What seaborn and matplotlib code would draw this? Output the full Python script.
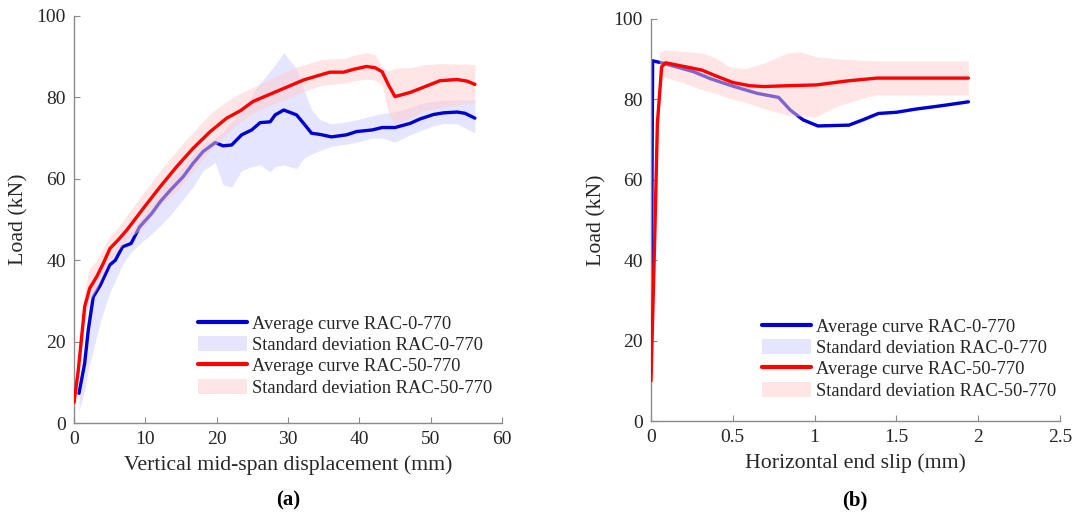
import numpy as np
import pandas as pd
import matplotlib
matplotlib.use("Agg")
import matplotlib.pyplot as plt
from matplotlib.lines import Line2D
from matplotlib.patches import Patch
import seaborn as sns

# ---- (a) load vs. vertical mid-span displacement ----
a_rac0_x = [0.7, 1.5, 2.0, 2.7, 3.7, 5.0, 5.8, 6.8, 8.0, 9.2, 10.9, 12.1, 13.5, 15.3, 16.7,
            18.1, 19.8, 20.9, 22.1, 23.5, 24.9, 26.1, 27.5, 28.2, 29.4, 31.2, 32.2, 33.3,
            34.5, 36.1, 38.2, 39.6, 41.8, 43.2, 45.0, 47.1, 48.5, 50.4, 51.8, 53.7, 54.8, 56.2]
a_rac0_mean = [7.3, 14.7, 22.8, 31.0, 33.9, 38.8, 40.0, 43.3, 44.1, 48.2, 51.5, 54.4, 57.2,
               60.5, 63.8, 66.7, 68.9, 68.1, 68.3, 70.8, 72.0, 73.8, 74.0, 75.7, 76.9, 75.7,
               73.6, 71.2, 70.9, 70.3, 70.8, 71.6, 72.0, 72.6, 72.6, 73.6, 74.7, 75.8, 76.2,
               76.4, 76.1, 74.9]
a_rac0_hi = [9.0, 20.0, 28.0, 34.0, 37.0, 41.0, 43.0, 46.0, 47.0, 50.0, 54.0, 57.0, 60.0,
             63.0, 66.0, 68.5, 70.0, 71.5, 74.0, 77.0, 80.5, 83.5, 86.5, 88.0, 91.0, 87.0,
             82.0, 77.0, 74.5, 73.5, 74.0, 74.5, 75.5, 76.0, 76.5, 77.5, 78.5, 79.0, 79.3,
             79.4, 79.4, 79.4]
a_rac0_lo = [3.0, 8.0, 13.0, 18.0, 25.0, 32.0, 35.0, 39.0, 42.0, 44.0, 46.5, 48.5, 51.0,
             55.0, 58.0, 62.0, 64.0, 58.5, 58.0, 62.0, 63.0, 63.4, 61.7, 63.0, 63.4, 62.5,
             65.0, 66.0, 67.0, 68.0, 68.5, 69.0, 70.0, 70.0, 69.0, 70.8, 71.8, 73.0, 73.6,
             73.5, 72.5, 71.2]

a_rac50_x = [0.0, 0.6, 1.5, 2.2, 3.2, 4.1, 5.05, 6.2, 7.4, 9.7, 12.1, 14.4, 16.7, 19.1, 21.4,
             23.3, 25.1, 27.5, 29.8, 32.2, 34.5, 35.9, 37.8, 39.2, 41.0, 42.2, 43.2, 44.1,
             45.0, 47.1, 49.0, 51.3, 53.7, 55.1, 56.2]
a_rac50_mean = [5.0, 13.0, 28.6, 33.1, 36.0, 39.2, 42.9, 45.0, 47.4, 52.7, 58.1, 63.0, 67.5,
                71.6, 74.9, 76.7, 79.0, 80.8, 82.5, 84.3, 85.5, 86.2, 86.2, 86.9, 87.6, 87.3,
                86.3, 83.0, 80.2, 81.2, 82.5, 84.1, 84.4, 84.0, 83.2]
a_rac50_hi = [6.0, 17.0, 33.0, 38.0, 40.0, 43.0, 46.0, 48.0, 51.0, 56.5, 62.0, 67.0, 71.5,
              76.0, 79.0, 81.0, 82.5, 84.5, 86.5, 88.0, 89.2, 89.5, 89.5, 90.3, 91.0, 90.5,
              87.5, 86.5, 87.2, 87.3, 88.0, 88.3, 88.2, 88.2, 88.0]
a_rac50_lo = [4.0, 10.0, 25.0, 30.0, 33.0, 36.5, 40.0, 42.5, 45.0, 48.0, 53.5, 57.0, 62.0,
              67.0, 71.0, 74.0, 76.0, 78.0, 79.5, 81.5, 82.8, 83.2, 83.5, 84.0, 84.5, 84.2,
              83.0, 76.0, 73.2, 75.0, 76.5, 77.5, 78.3, 78.5, 78.6]

# ---- (b) load vs. horizontal end slip ----
b_rac0_x = [0.0, 0.01, 0.075, 0.26, 0.36, 0.5, 0.65, 0.78, 0.85, 0.93, 1.02, 1.21, 1.3, 1.39,
            1.5, 1.62, 1.77, 1.94]
b_rac0_mean = [12.0, 89.6, 89.0, 86.9, 85.2, 83.3, 81.5, 80.5, 77.4, 74.9, 73.4, 73.6, 75.0,
               76.5, 76.8, 77.6, 78.4, 79.4]
b_rac0_sd = [0.3, 0.3, 0.3, 0.3, 0.3, 0.3, 0.3, 0.3, 0.3, 0.3, 0.3, 0.3, 0.3, 0.3, 0.3, 0.3,
             0.3, 0.3]

b_rac50_x = [0.0, 0.024, 0.039, 0.065, 0.09, 0.31, 0.40, 0.50, 0.605, 0.69, 0.83, 1.01, 1.2,
             1.38, 1.94]
b_rac50_mean = [10.0, 47.5, 74.0, 88.1, 89.1, 87.3, 85.8, 84.2, 83.4, 83.2, 83.4, 83.6, 84.6,
                85.3, 85.3]
b_rac50_band_x = [0.05, 0.075, 0.18, 0.32, 0.40, 0.48, 0.57, 0.69, 0.83, 0.91, 1.01, 1.13,
                  1.3, 1.38, 1.94]
b_rac50_hi = [91.5, 92.3, 92.0, 91.5, 90.2, 88.1, 87.6, 89.0, 91.5, 91.9, 90.6, 90.1, 89.7,
              89.6, 89.6]
b_rac50_lo = [82.0, 85.6, 84.4, 82.3, 81.5, 80.2, 79.4, 77.7, 76.1, 75.8, 75.7, 78.2, 80.4,
              81.1, 81.1]

a_xticks = [0, 10, 20, 30, 40, 50, 60]
b_xticks = [0, 0.5, 1, 1.5, 2, 2.5]
b_xticklabels = ["0", "0.5", "1", "1.5", "2", "2.5"]
y_ticks = [0, 20, 40, 60, 80, 100]
legend_labels = ["Average curve RAC-0-770", "Standard deviation RAC-0-770",
                 "Average curve RAC-50-770", "Standard deviation RAC-50-770"]

sns.set_theme(style="ticks")
plt.rcParams["font.family"] = ["Liberation Serif", "DejaVu Serif"]

BLUE = (0.0, 0.0, 0.82)
RED = (1.0, 0.0, 0.0)
BLUE_FILL = (0.80, 0.80, 1.0)
RED_FILL = (1.0, 0.80, 0.80)
FILL_ALPHA = 0.5
LW = 2.4
AX_GRAY = "#8a8a8a"
TXT = "#262626"

W, H = 1080, 514
fig = plt.figure(figsize=(W / 100, H / 100), dpi=100)


def px_axes(left, top, right, bottom):
    return fig.add_axes([left / W, 1 - bottom / H, (right - left) / W, (bottom - top) / H])


ax_a = px_axes(74, 16, 502, 423)
ax_b = px_axes(651, 19, 1060, 421)


def draw_series(ax, x, mean, bx, lo, hi, line_color, fill_color, z):
    # band first, then its average line; later series are stacked above
    ax.fill_between(bx, lo, hi, color=fill_color, alpha=FILL_ALPHA, lw=0, zorder=z)
    df = pd.DataFrame({"x": x, "y": mean})
    sns.lineplot(data=df, x="x", y="y", ax=ax, color=line_color, lw=LW,
                 estimator=None, sort=False, zorder=z + 1)


draw_series(ax_a, a_rac0_x, a_rac0_mean, a_rac0_x, a_rac0_lo, a_rac0_hi, BLUE, BLUE_FILL, 1)
draw_series(ax_a, a_rac50_x, a_rac50_mean, a_rac50_x, a_rac50_lo, a_rac50_hi, RED, RED_FILL, 3)

b0_lo = np.array(b_rac0_mean) - np.array(b_rac0_sd)
b0_hi = np.array(b_rac0_mean) + np.array(b_rac0_sd)
draw_series(ax_b, b_rac0_x, b_rac0_mean, b_rac0_x, b0_lo, b0_hi, BLUE, BLUE_FILL, 1)
draw_series(ax_b, b_rac50_x, b_rac50_mean, b_rac50_band_x, b_rac50_lo, b_rac50_hi,
            RED, RED_FILL, 3)

handles = [
    Line2D([], [], color=BLUE, lw=LW + 0.6),
    Patch(facecolor=BLUE_FILL, alpha=FILL_ALPHA, lw=0),
    Line2D([], [], color=RED, lw=LW + 0.6),
    Patch(facecolor=RED_FILL, alpha=FILL_ALPHA, lw=0),
]

for ax, xlim, xticks, xlabel, leg_xy in [
    (ax_a, (0, 60), a_xticks, "Vertical mid-span displacement (mm)", (198, 315)),
    (ax_b, (0, 2.5), b_xticks, "Horizontal end slip (mm)", (762, 318)),
]:
    ax.set_xlim(*xlim)
    ax.set_ylim(0, 100)
    ax.set_xticks(xticks)
    ax.set_yticks(y_ticks)
    sns.despine(ax=ax)
    for s in ("left", "bottom"):
        ax.spines[s].set_color(AX_GRAY)
        ax.spines[s].set_linewidth(1.0)
    ax.tick_params(direction="in", length=4, width=0.8, color=AX_GRAY,
                   labelsize=14, labelcolor=TXT, pad=6)
    ax.set_xlabel(xlabel, fontsize=15.7, color=TXT, labelpad=5)
    ax.set_ylabel("Load (kN)", fontsize=15.7, color=TXT)
    ax.legend(handles, legend_labels, loc="upper left", frameon=False,
              bbox_to_anchor=(leg_xy[0] / W, 1 - leg_xy[1] / H),
              bbox_transform=fig.transFigure, borderaxespad=0, borderpad=0,
              fontsize=13.3, handlelength=2.65, handleheight=0.85, handletextpad=0.3,
              labelspacing=0.19, labelcolor=TXT)

ax_b.set_xticklabels(b_xticklabels)
ax_a.yaxis.set_label_coords(-0.106, 0.5)
ax_b.yaxis.set_label_coords(-0.108, 0.5)

fig.text(288 / W, 1 - 500 / H, "(a)", ha="center", va="center", fontsize=15,
         fontweight="bold", color="black")
fig.text(855 / W, 1 - 500 / H, "(b)", ha="center", va="center", fontsize=15,
         fontweight="bold", color="black")

fig.savefig("out.png", dpi=100, facecolor="white")
